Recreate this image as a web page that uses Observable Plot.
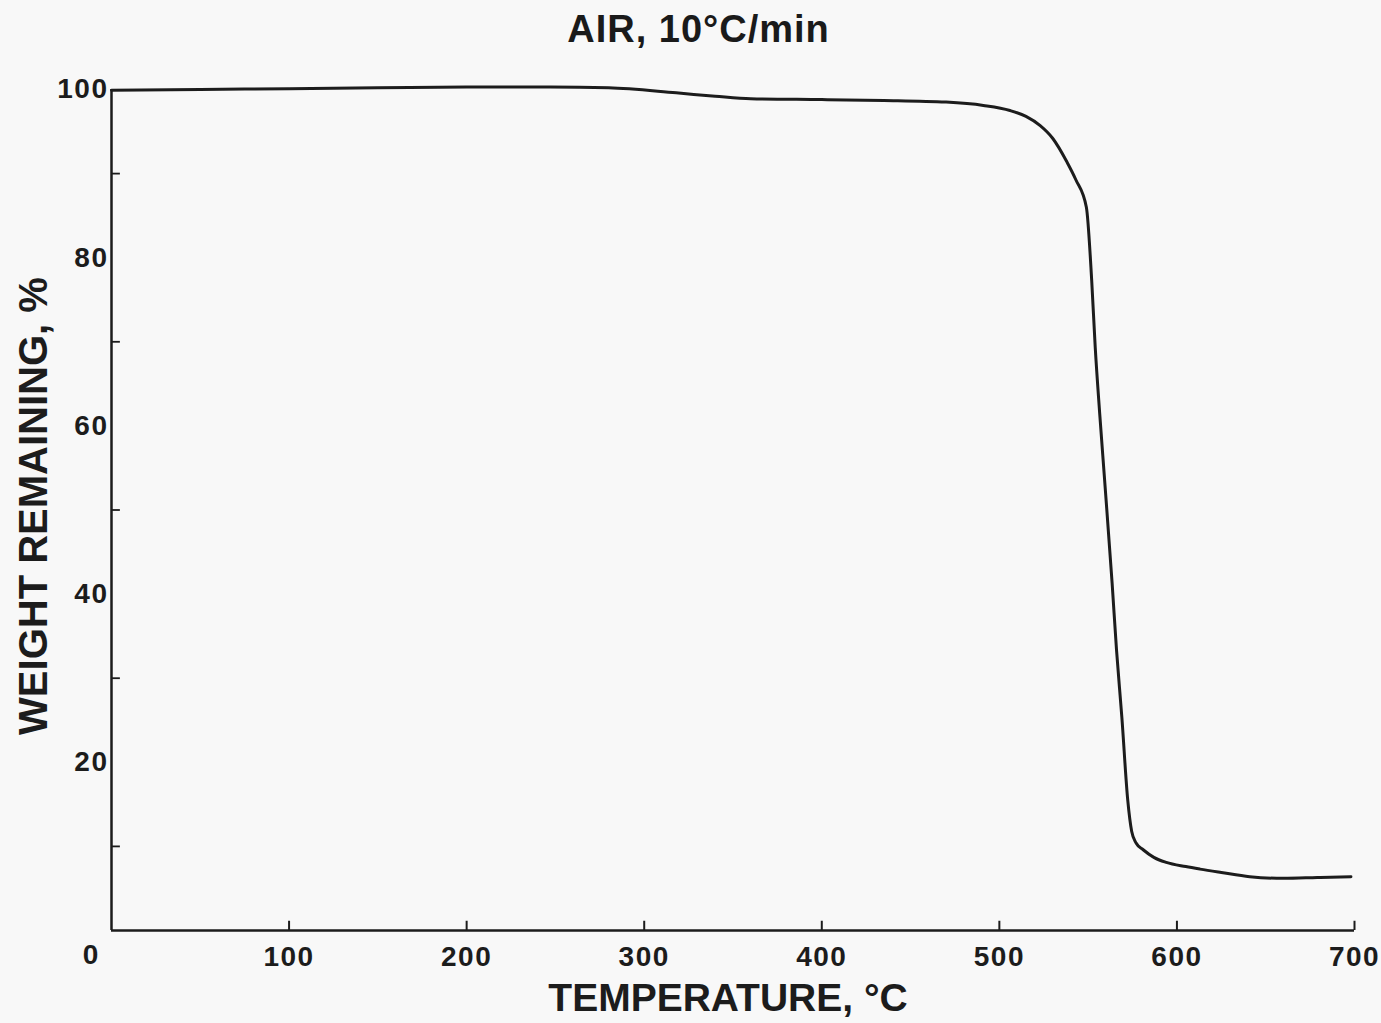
<!DOCTYPE html>
<html>
<head>
<meta charset="utf-8">
<script src="https://cdn.jsdelivr.net/npm/d3@7"></script>
<script src="https://cdn.jsdelivr.net/npm/@observablehq/plot@0.6"></script>
<style>
  html, body { margin: 0; padding: 0; background: #f8f8f8; }
  body { width: 1381px; height: 1023px; overflow: hidden; font-family: "Liberation Sans", Arial, sans-serif; }
  #title { height: 58px; line-height: 58px; text-align: center; padding-left: 16px; font-size: 38px; font-weight: bold; color: #1a1a1a; letter-spacing: 1px; }
  svg { display: block; }
  g[aria-label="x-axis tick label"] text, g[aria-label="y-axis tick label"] text { letter-spacing: 1.5px; }
</style>
</head>
<body>
<div id="title">AIR, 10°C/min</div>
<div id="chart"></div>
<script>
// Temperature (°C) and weight remaining (%)
const temperature = [0, 50, 100, 150, 200, 247, 280, 318, 340, 360, 400, 435, 470, 491, 506, 515, 523, 530, 538, 543, 549, 552, 554, 556.5, 559.3, 563.5, 566, 569, 572.3, 574.5, 577, 581, 587, 594, 605, 613, 625, 641, 660, 679, 698];
const weight      = [99.9, 100.0, 100.1, 100.2, 100.3, 100.3, 100.2, 99.6, 99.2, 98.9, 98.8, 98.7, 98.5, 98.1, 97.5, 96.8, 95.7, 94.2, 91.4, 89.3, 86.0, 77.3, 69.3, 61.5, 53.5, 41.3, 33.3, 25.3, 15.5, 11.8, 10.4, 9.6, 8.7, 8.1, 7.6, 7.3, 6.9, 6.4, 6.2, 6.3, 6.4];
const xTickLabels = [100, 200, 300, 400, 500, 600, 700];
const yTickLabels = [20, 40, 60, 80, 100];
const yMinorTicks = [10, 30, 50, 70, 90];
const xLabel = "TEMPERATURE, °C";
const yLabel = "WEIGHT REMAINING, %";

const curve = temperature.map((t, i) => ({t, w: weight[i]}));
const ink = "#1c1c1c";
const font = "Liberation Sans, Arial, sans-serif";

const chart = Plot.plot({
  width: 1381,
  height: 965,
  marginLeft: 111,
  marginRight: 27,
  marginTop: 31,
  marginBottom: 93,
  style: {background: "transparent", fontFamily: font, color: ink},
  x: {domain: [0, 700]},
  y: {domain: [0, 100]},
  marks: [
    Plot.ruleX([0], {y1: 0, y2: 100, stroke: ink, strokeWidth: 2.5}),
    Plot.ruleY([0], {x1: 0, x2: 700, stroke: ink, strokeWidth: 2.5}),
    Plot.ruleX(xTickLabels, {x: d => d, y1: 0, y2: 1.1, stroke: ink, strokeWidth: 2}),
    Plot.ruleY(yMinorTicks, {y: d => d, x1: 0, x2: 5, stroke: ink, strokeWidth: 1.8}),
    Plot.axisX({ticks: xTickLabels, tickSize: 0, tickPadding: 16, fontSize: 28, fontWeight: "bold", fill: ink, label: null}),
    Plot.axisY({ticks: yTickLabels, tickSize: 0, tickPadding: 3, fontSize: 28, fontWeight: "bold", fill: ink, label: null}),
    Plot.text(["0"], {x: 0, y: 0, text: d => d, dx: -21, dy: 25, lineAnchor: "middle", fontSize: 28, fontWeight: "bold", fill: ink}),
    Plot.text([xLabel], {frameAnchor: "bottom", text: d => d, dx: -5, dy: 68, textAnchor: "middle", lineAnchor: "middle", fontSize: 39, fontWeight: "bold", fill: ink}),
    Plot.text([yLabel], {frameAnchor: "left", text: d => d, rotate: -90, dx: -77, dy: -4, textAnchor: "middle", lineAnchor: "middle", fontSize: 40, fontWeight: "bold", fill: ink}),
    Plot.line(curve, {x: "t", y: "w", curve: "monotone-x", stroke: ink, strokeWidth: 3})
  ]
});
document.getElementById("chart").appendChild(chart);
</script>
</body>
</html>
